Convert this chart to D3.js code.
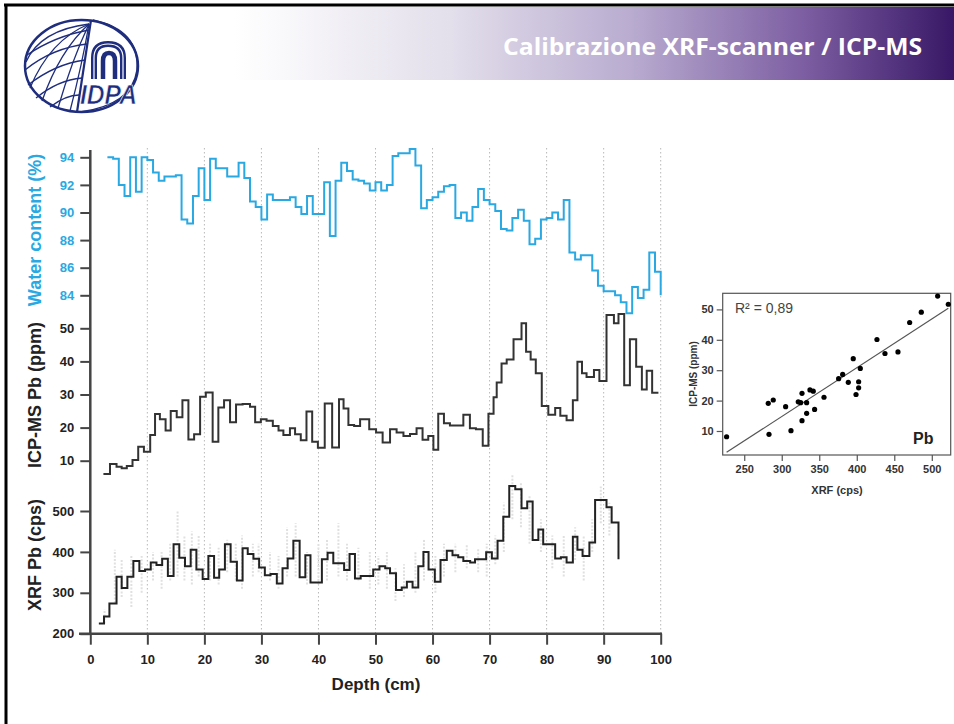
<!DOCTYPE html>
<html><head><meta charset="utf-8">
<script src="https://cdn.jsdelivr.net/npm/d3@7"></script>
<style>
body{margin:0;background:#fff;}
svg{display:block;}
text{font-family:"Liberation Sans",Arial,sans-serif;}
</style>
</head><body>
<svg id="c" width="954" height="724"></svg>
<script>
// ---------------- DATA ----------------
const titleText = "Calibrazione XRF-scanner / ICP-MS";
const depthTicks = [0,10,20,30,40,50,60,70,80,90,100];
const gridDepths = [10,20,30,40,50,60,70,80,90,100];
const waterTicks = [84,86,88,90,92,94];
const icpTicks = [10,20,30,40,50];
const xrfTicks = [200,300,400,500];

// Water content (%) – step series (depth = top of each step, cm)
const waterDepth = [3,4,5,6,7,8,9,10,11,12,13,14,15,16,17,18,19,20,21,22,23,24,25,26,27,28,29,30,31,32,33,34,35,36,37,38,39,40,41,42,43,44,45,46,47,48,49,50,51,52,53,54,55,56,57,58,59,60,61,62,63,64,65,66,67,68,69,70,71,72,73,74,75,76,77,78,79,80,81,82,83,84,85,86,87,88,89,90,91,92,93,94,95,96,97,98,99,100];
const waterValue = [94.0,93.9,92.0,91.2,94.0,91.5,94.0,93.8,92.9,92.3,92.6,92.6,92.7,89.5,89.2,91.2,93.2,90.9,93.9,93.2,93.2,92.6,92.6,93.6,92.5,90.8,90.4,89.5,91.3,90.9,90.9,90.9,91.1,90.4,89.9,91.2,89.9,89.9,92.2,88.3,92.3,93.6,93.0,92.4,92.3,92.1,91.6,92.2,91.6,92.0,94.1,94.3,94.3,94.6,93.4,90.3,90.9,91.1,91.5,91.9,92.0,89.6,90.0,89.4,90.4,91.7,90.9,90.6,90.1,88.8,88.7,89.6,90.2,89.4,87.7,88.1,89.5,89.6,90.0,89.5,90.9,87.1,86.6,86.9,86.9,85.8,84.7,84.3,84.3,84.0,83.5,82.7,84.6,83.8,84.4,87.1,85.7,84.0];

// ICP-MS Pb (ppm)
const icpDepth = [2.3,3.45,4.6,5.5,6.4,7.4,8.4,9.4,10.5,11.35,12.2,13.2,14.1,15.15,16.15,17.2,18.2,19.25,20.25,21.45,22.45,23.45,24.5,25.55,26.7,28.0,28.9,29.9,30.9,32.0,33.0,33.85,35.0,35.9,36.9,37.9,38.9,39.9,41.1,42.4,43.6,44.4,45.25,46.25,47.3,48.9,50.1,51.25,52.55,53.7,54.9,56.05,57.2,58.25,59.25,60.15,61.0,62.0,63.05,65.4,66.55,67.6,68.8,69.8,70.7,71.25,72.1,73.0,74.2,75.6,76.4,77.2,78.1,79.15,80.3,81.5,82.4,83.5,84.6,85.4,86.2,87.0,88.3,89.25,90.5,91.8,92.6,93.6,94.6,95.7,96.7,97.55,98.5,99.6];
const icpValue = [6.0,9.0,8.2,7.7,8.4,10.2,14.2,12.7,17.8,24.1,22.5,19.1,25.0,23.1,28.3,16.4,18.0,29.3,30.6,15.7,26.1,28.3,21.6,27.0,27.1,26.3,21.6,22.5,22.1,20.5,19.1,17.8,19.8,18.0,16.2,24.9,15.7,13.9,27.3,14.0,28.6,25.8,20.8,20.5,22.5,19.5,18.5,15.5,19.5,18.5,17.5,18.1,19.8,16.3,17.5,13.3,24.2,21.3,20.6,23.9,19.8,19.5,14.5,24.2,29.2,33.6,39.4,40.6,46.7,51.5,42.9,40.6,36.4,26.5,23.9,25.9,23.6,22.2,28.3,39.9,36.4,35.3,37.4,34.1,54.0,51.5,54.3,32.8,46.7,38.4,31.5,37.2,30.5,30.5];

// XRF Pb (cps) – averaged steps
const xrfDepth = [1.5,2.4,3.35,4.6,5.5,6.5,7.55,8.6,9.6,10.6,11.6,12.6,13.6,14.6,15.6,16.6,17.6,18.6,19.7,20.7,21.7,22.6,23.6,24.6,25.7,26.7,27.6,28.6,29.6,30.6,31.6,32.7,33.7,34.6,35.6,36.7,37.7,38.6,40.6,41.6,42.6,44.5,45.45,46.4,47.4,49.6,50.7,51.7,52.55,53.6,54.6,55.5,56.5,57.5,58.4,59.3,60.4,61.4,62.5,63.5,64.5,65.4,66.6,67.45,69.4,70.4,71.4,72.4,73.45,74.5,75.6,76.6,77.55,78.55,79.4,81.5,82.5,83.5,84.6,85.4,86.3,87.5,88.5,90.5,91.4,92.6];
const xrfValue = [225,242,274,339,312,339,378,353,357,374,368,383,341,419,386,365,405,357,334,390,337,357,419,376,330,409,395,383,362,343,346,323,360,384,427,338,392,325,382,398,372,356,395,335,341,357,365,360,348,307,313,327,313,365,400,357,327,380,403,392,387,378,374,382,399,384,427,486,561,553,507,523,429,455,419,384,387,374,437,405,390,423,527,509,472,382];

// XRF raw scan – faint ranges (cps)
const xrfRawDepth = [2.5,4.3,5.5,7.2,9,11,12.5,14,15.3,16.5,17.8,19,21,22.5,24,25.5,26.6,28.5,29.5,31.5,33,34.5,36,38,40,41.5,43.5,45,47,49,50.5,52,53.5,55,57,58.5,60.5,62,64,66,68,69.5,71,72.5,74,75.5,77,79,81,83,85,86.5,88,89.5,91];
const xrfRawLow  = [225,275,290,265,300,330,310,330,340,330,320,340,330,320,350,330,310,340,350,330,310,340,340,320,320,330,340,330,330,310,320,310,280,290,300,330,300,340,350,360,350,340,370,400,480,460,420,400,360,340,380,330,400,470,440];
const xrfRawHigh = [260,405,380,390,390,400,400,420,500,440,450,440,420,410,430,420,440,420,420,400,390,460,470,400,420,430,470,420,410,400,390,400,360,370,400,430,390,420,420,420,410,420,440,520,590,570,540,480,440,440,460,440,480,560,520];

// Scatter XRF vs ICP-MS
const scatterXRF = [226.5,282,288.7,283,305.2,312.3,322,325.2,327,327,333.2,333.2,337.6,342,343.8,356.3,375.8,381.2,388.7,395.3,399,402.5,402.5,404.7,426.9,437.6,454.9,470.5,486,507.8,522];
const scatterICP = [8.1,19.1,20.2,8.9,18.0,10.1,19.6,19.3,22.4,13.4,19.3,15.8,23.5,23.1,17.1,21.1,27.2,28.6,26.0,33.8,22.0,24.2,26.2,30.6,40.1,35.5,36.0,45.7,49.1,54.4,51.7];
const scatterXTicks = [250,300,350,400,450,500];
const scatterYTicks = [10,20,30,40,50];
const r2Label = "R² = 0,89";

// ---------------- DRAW ----------------
const svg = d3.select("#c");
const navy = "#1e2d7d";
const blue = "#2aa8e2";

// slide border
svg.append("line").attr("x1",4).attr("x2",954).attr("y1",5).attr("y2",5).attr("stroke","#000").attr("stroke-width",3);
svg.append("line").attr("x1",6).attr("x2",6).attr("y1",4).attr("y2",724).attr("stroke","#000").attr("stroke-width",3);

// banner
const defs = svg.append("defs");
const g = defs.append("linearGradient").attr("id","ban").attr("x1","0").attr("x2","1").attr("y1","0").attr("y2","0");
[[0,"#ffffff"],[0.3,"#e3dfeb"],[0.55,"#b9acd0"],[0.8,"#7a5ba0"],[1,"#381866"]].forEach(s=>g.append("stop").attr("offset",s[0]).attr("stop-color",s[1]));
svg.append("rect").attr("x",235).attr("y",7).attr("width",719).attr("height",73).attr("fill","url(#ban)");
svg.append("text").attr("x",922).attr("y",55).attr("text-anchor","end")
  .style("font-family","'Open Sans',sans-serif").style("font-weight","bold").style("font-size","24px")
  .attr("fill","#fff").attr("textLength",419).attr("lengthAdjust","spacingAndGlyphs").text(titleText);

// logo
const lg = svg.append("g");
lg.append("ellipse").attr("cx",81.5).attr("cy",66).attr("rx",56.5).attr("ry",46).attr("fill","#fff").attr("stroke",navy).attr("stroke-width",2.5);
const gridPaths = [
  "M89,24 Q50,40 30,88","M89,24 Q60,50 42,101","M89,24 Q72,60 58,108","M89,24 Q82,65 70,111",
  "M27,55 Q55,36 89,30","M25,70 Q52,48 87,44","M28,85 Q55,64 85,60","M36,98 Q58,80 82,78","M50,107 Q66,95 79,95",
  "M89,24 Q40,30 26,62"
];
gridPaths.forEach(p=>lg.append("path").attr("d",p).attr("fill","none").attr("stroke",navy).attr("stroke-width",1.3));
lg.append("path").attr("d","M91,20 L77,112").attr("stroke",navy).attr("stroke-width",2.2);
lg.append("path").attr("d","M93,20 Q140,30 137,70 Q132,105 80,112").attr("fill","none").attr("stroke",navy).attr("stroke-width",1.5);
lg.append("path").attr("d","M94,79 V58 Q94,44 108,44 Q123,44 123,58 V79").attr("fill","none").attr("stroke",navy).attr("stroke-width",6);
lg.append("path").attr("d","M94,79 V58 Q94,44 108,44 Q123,44 123,58 V79").attr("fill","none").attr("stroke","#fff").attr("stroke-width",1.2);
lg.append("path").attr("d","M103,79 V61 Q103,53 109,53 Q115,53 115,61 V79").attr("fill","none").attr("stroke",navy).attr("stroke-width",4.5);
lg.append("text").attr("x",80).attr("y",104).attr("textLength",57).attr("lengthAdjust","spacingAndGlyphs")
  .style("font-size","27px").style("font-weight","bold").style("font-style","italic").attr("fill",navy)
  .attr("stroke","#fff").attr("stroke-width",0.6).text("IDPA");

// ---- main chart scales
const x = d3.scaleLinear().domain([0,100]).range([90.3,660.7]);
const yW = d3.scaleLinear().domain([84,94]).range([295.3,157.3]);
const yI = d3.scaleLinear().domain([10,50]).range([460.7,328.3]);
const yX = d3.scaleLinear().domain([200,500]).range([633.7,511]);
const baseY = 633.7;

// grid
svg.append("g").selectAll("line").data(gridDepths).join("line")
  .attr("x1",d=>x(d)).attr("x2",d=>x(d)).attr("y1",148).attr("y2",baseY)
  .attr("stroke","#b8b8b8").attr("stroke-width",1).attr("stroke-dasharray","1.5,2.5");

// raw XRF faint
svg.append("g").selectAll("line").data(xrfRawDepth).join("line")
  .attr("x1",d=>x(d)).attr("x2",d=>x(d))
  .attr("y1",(d,i)=>yX(xrfRawLow[i])).attr("y2",(d,i)=>yX(xrfRawHigh[i]))
  .attr("stroke","#e0e0e0").attr("stroke-width",2).attr("stroke-dasharray","2,1.5");

const stepLine = (ys)=>d3.line().x(d=>x(d[0])).y(d=>ys(d[1])).curve(d3.curveStepAfter);

svg.append("path").datum(waterDepth.map((d,i)=>[d,waterValue[i]]))
  .attr("d",stepLine(yW)).attr("fill","none").attr("stroke",blue).attr("stroke-width",2);
svg.append("path").datum(icpDepth.map((d,i)=>[d,icpValue[i]]))
  .attr("d",stepLine(yI)).attr("fill","none").attr("stroke","#333").attr("stroke-width",2);
svg.append("path").datum(xrfDepth.map((d,i)=>[d,xrfValue[i]]))
  .attr("d",stepLine(yX)).attr("fill","none").attr("stroke","#222").attr("stroke-width",2);

// axes
function styleAxis(sel,color){
  sel.select(".domain").remove();
  sel.selectAll(".tick line").attr("stroke","#444").attr("stroke-width",2);
  sel.selectAll(".tick text").attr("fill",color).style("font-size","13px").style("font-weight","bold")
    .style("font-family","'Liberation Sans',Arial,sans-serif");
}
const axW = svg.append("g").attr("transform","translate(90.3,0)").call(d3.axisLeft(yW).tickValues(waterTicks).tickSize(10).tickPadding(6));
styleAxis(axW,blue);
const axI = svg.append("g").attr("transform","translate(90.3,0)").call(d3.axisLeft(yI).tickValues(icpTicks).tickSize(10).tickPadding(6));
styleAxis(axI,"#222");
const axX = svg.append("g").attr("transform","translate(90.3,0)").call(d3.axisLeft(yX).tickValues(xrfTicks).tickSize(10).tickPadding(6));
styleAxis(axX,"#222");
const axB = svg.append("g").attr("transform",`translate(0,${baseY})`).call(d3.axisBottom(x).tickValues(depthTicks).tickSize(11).tickPadding(10));
styleAxis(axB,"#222");

svg.append("line").attr("x1",90.3).attr("x2",90.3).attr("y1",150).attr("y2",baseY+1).attr("stroke","#444").attr("stroke-width",2.5);
svg.append("line").attr("x1",79).attr("x2",662).attr("y1",baseY).attr("y2",baseY).attr("stroke","#444").attr("stroke-width",2.5);

// axis titles
function vTitle(txt,cx,cy,color){
  svg.append("text").attr("transform",`translate(${cx},${cy}) rotate(-90)`).attr("text-anchor","middle")
    .attr("dy","0.35em").style("font-size","18px").style("font-weight","bold").attr("fill",color).text(txt);
}
vTitle("Water content (%)",35,230,blue);
vTitle("ICP-MS Pb (ppm)",35,395,"#222");
vTitle("XRF Pb (cps)",35,555,"#222");
svg.append("text").attr("x",376).attr("y",690).attr("text-anchor","middle").style("font-size","17px")
  .style("font-weight","bold").attr("fill","#222").text("Depth (cm)");

// ---- scatter
const sx = d3.scaleLinear().domain([221.3,525.2]).range([722.7,950.7]);
const sy = d3.scaleLinear().domain([2.1,55.3]).range([455,293.3]);
svg.append("rect").attr("x",722.7).attr("y",293.3).attr("width",228).attr("height",161.7)
  .attr("fill","none").attr("stroke","#555").attr("stroke-width",1.2);
const sAxL = svg.append("g").attr("transform","translate(722.7,0)").call(d3.axisLeft(sy).tickValues(scatterYTicks).tickSize(6).tickPadding(3));
const sAxB = svg.append("g").attr("transform","translate(0,455)").call(d3.axisBottom(sx).tickValues(scatterXTicks).tickSize(6).tickPadding(4));
[sAxL,sAxB].forEach(a=>{
  a.select(".domain").remove();
  a.selectAll(".tick line").attr("stroke","#555").attr("stroke-width",1.2);
  a.selectAll(".tick text").attr("fill","#333").style("font-size","11px").style("font-weight","bold");
});
// regression line (least squares)
const n = scatterXRF.length;
const mx = d3.mean(scatterXRF), my = d3.mean(scatterICP);
let sxy=0, sxx=0;
for(let i=0;i<n;i++){sxy+=(scatterXRF[i]-mx)*(scatterICP[i]-my); sxx+=(scatterXRF[i]-mx)**2;}
const slope = sxy/sxx, icpt = my - slope*mx;
const [x0,x1] = [d3.min(scatterXRF), d3.max(scatterXRF)];
svg.append("line").attr("x1",sx(x0)).attr("y1",sy(slope*x0+icpt)).attr("x2",sx(x1)).attr("y2",sy(slope*x1+icpt))
  .attr("stroke","#555").attr("stroke-width",1.2);
svg.append("g").selectAll("circle").data(scatterXRF).join("circle")
  .attr("cx",d=>sx(d)).attr("cy",(d,i)=>sy(scatterICP[i])).attr("r",2.6).attr("fill","#000");
svg.append("text").attr("x",735).attr("y",313).style("font-size","14px").attr("fill","#444").text(r2Label);
svg.append("text").attr("x",913).attr("y",444).style("font-size","16px").style("font-weight","bold").attr("fill","#222").text("Pb");
svg.append("text").attr("x",837).attr("y",494).attr("text-anchor","middle").style("font-size","11px").style("font-weight","bold").attr("fill","#333").text("XRF (cps)");
svg.append("text").attr("transform","translate(697,374) rotate(-90)").attr("text-anchor","middle")
  .style("font-size","10px").style("font-weight","bold").attr("fill","#333").text("ICP-MS (ppm)");
</script>
</body></html>
